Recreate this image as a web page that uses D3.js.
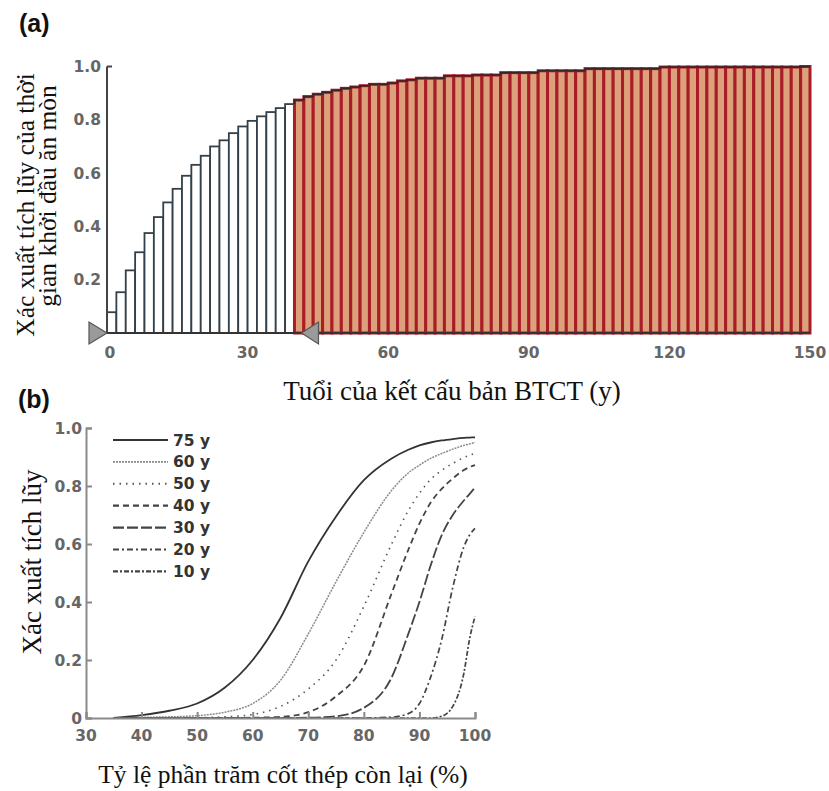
<!DOCTYPE html>
<html>
<head>
<meta charset="utf-8">
<script src="https://cdn.jsdelivr.net/npm/d3@7"></script>
<style>
  body { margin: 0; background: #fff; }
  svg { display: block; }
  .tick-label { font-family: "DejaVu Sans", Verdana, sans-serif; font-size: 15.5px; font-weight: 700; fill: #666; }
  .title { font-family: "Liberation Serif", "Times New Roman", serif; fill: #111; }
  .panel { font-family: "Liberation Sans", Arial, sans-serif; font-size: 25px; font-weight: 700; fill: #111; }
</style>
</head>
<body>
<svg id="chart" width="829" height="791"></svg>
<script>
// ---- panel (a): cumulative probability of corrosion initiation time ----
const binWidth = 2;                       // years per bar
const ages = d3.range(0, 150, binWidth);  // bar start ages
const cdfA = [
  0.078, 0.153, 0.235, 0.303, 0.375, 0.435, 0.490, 0.541, 0.590, 0.631,
  0.665, 0.700, 0.723, 0.750, 0.775, 0.796, 0.813, 0.829, 0.844, 0.859,
  0.874, 0.887, 0.896, 0.903, 0.911, 0.918, 0.923, 0.928, 0.933, 0.933,
  0.938, 0.946, 0.950, 0.956, 0.956, 0.956, 0.965, 0.965, 0.965, 0.968,
  0.968, 0.968, 0.977, 0.977, 0.977, 0.977, 0.984, 0.984, 0.984, 0.984,
  0.984, 0.992, 0.992, 0.992, 0.992, 0.992, 0.992, 0.992, 0.992, 0.998,
  0.998, 0.998, 0.998, 0.998, 0.998, 0.998, 0.998, 0.998, 0.998, 0.998,
  0.998, 0.998, 0.998, 0.998, 1.000
];
const highlightFrom = 40;        // bars from this age are coloured
const markerAges = [0, 41.5];    // grey triangle markers on the axis
const xTicksA = [0, 30, 60, 90, 120, 150];
const yTicksA = [0.2, 0.4, 0.6, 0.8, 1.0];

// ---- panel (b): cumulative probability of remaining steel ----
const pct = [35, 40, 45, 50, 55, 60, 65, 70, 75, 80, 85, 88, 90, 92, 94, 96, 98, 99, 100];
const seriesNames = ["75 y", "60 y", "50 y", "40 y", "30 y", "20 y", "10 y"];
const y75 = [0, 0.01, 0.025, 0.05, 0.105, 0.2, 0.345, 0.54, 0.695, 0.82, 0.895, 0.925, 0.94, 0.95, 0.957, 0.962, 0.966, 0.967, 0.968];
const y60 = [0, 0.002, 0.004, 0.008, 0.02, 0.05, 0.13, 0.29, 0.47, 0.64, 0.785, 0.845, 0.872, 0.895, 0.912, 0.927, 0.94, 0.945, 0.95];
const y50 = [0, 0, 0, 0.001, 0.004, 0.012, 0.04, 0.1, 0.2, 0.385, 0.6, 0.715, 0.775, 0.822, 0.854, 0.878, 0.898, 0.906, 0.913];
const y40 = [0, 0, 0, 0, 0, 0.001, 0.004, 0.02, 0.075, 0.18, 0.43, 0.58, 0.67, 0.742, 0.79, 0.826, 0.855, 0.865, 0.872];
const y30 = [0, 0, 0, 0, 0, 0, 0, 0.001, 0.006, 0.035, 0.14, 0.29, 0.4, 0.525, 0.63, 0.7, 0.75, 0.772, 0.795];
const y20 = [0, 0, 0, 0, 0, 0, 0, 0, 0, 0, 0.003, 0.015, 0.05, 0.14, 0.27, 0.45, 0.59, 0.63, 0.654];
const y10 = [0, 0, 0, 0, 0, 0, 0, 0, 0, 0, 0, 0, 0, 0, 0.006, 0.04, 0.155, 0.27, 0.35];
const xTicksB = [30, 40, 50, 60, 70, 80, 90, 100];
const yTicksB = [0, 0.2, 0.4, 0.6, 0.8, 1.0];

const svg = d3.select("#chart");

// ================= panel (a) =================
const xA = d3.scaleLinear().domain([0, 150]).range([107, 810]);
const yA = d3.scaleLinear().domain([0, 1]).range([333, 66.5]);
const gA = svg.append("g");

// bars
gA.selectAll("rect.bar")
  .data(ages.map((a, i) => ({ age: a, p: cdfA[i] })))
  .join("rect")
  .attr("class", "bar")
  .attr("x", d => xA(d.age))
  .attr("width", xA(binWidth) - xA(0))
  .attr("y", d => yA(d.p))
  .attr("height", d => yA(0) - yA(d.p))
  .attr("fill", d => d.age >= highlightFrom ? "#dca07a" : "#fff")
  .attr("stroke", d => d.age >= highlightFrom ? "#a91d28" : "#33404a")
  .attr("stroke-width", d => d.age >= highlightFrom ? 3 : 1.8);

// step outline on top of the coloured bars
const stepPts = [];
ages.forEach((a, i) => { stepPts.push([a, cdfA[i]], [a + binWidth, cdfA[i]]); });
gA.append("path")
  .attr("d", d3.line().x(d => xA(d[0])).y(d => yA(d[1]))(stepPts.filter(d => d[0] >= highlightFrom)))
  .attr("fill", "none")
  .attr("stroke", "#3a2225")
  .attr("stroke-width", 1.5);

// axes
gA.append("line")
  .attr("x1", xA(0)).attr("x2", xA(0))
  .attr("y1", yA(0)).attr("y2", yA(1))
  .attr("stroke", "#444").attr("stroke-width", 2);
gA.append("line")
  .attr("x1", xA(0)).attr("x2", xA(150))
  .attr("y1", yA(0)).attr("y2", yA(0))
  .attr("stroke", "#333").attr("stroke-width", 2);
gA.append("line")
  .attr("x1", xA(0)).attr("x2", xA(0) + 5)
  .attr("y1", yA(1)).attr("y2", yA(1))
  .attr("stroke", "#444").attr("stroke-width", 2);

gA.selectAll("text.ytA")
  .data(yTicksA)
  .join("text")
  .attr("class", "tick-label")
  .attr("x", xA(0) - 6)
  .attr("y", d => yA(d))
  .attr("dy", "0.36em")
  .attr("text-anchor", "end")
  .text(d => d3.format(".1f")(d));

gA.selectAll("text.xtA")
  .data(xTicksA)
  .join("text")
  .attr("class", "tick-label")
  .attr("x", d => xA(d) + (d === 0 ? 3 : 0))
  .attr("y", yA(0) + 25)
  .attr("text-anchor", "middle")
  .text(d => d);

// triangle markers
gA.selectAll("path.marker")
  .data(markerAges)
  .join("path")
  .attr("class", "marker")
  .attr("transform", d => `translate(${xA(d)},${yA(0)})`)
  .attr("d", (d, i) => i === 0 ? "M0,0 L-18,-11 L-18,11 Z" : "M0,0 L17,-11 L17,11 Z")
  .attr("fill", "#9a9a9a")
  .attr("stroke", "#555")
  .attr("stroke-width", 1.2);

// titles
gA.append("text")
  .attr("class", "title")
  .style("font-size", "25.5px")
  .attr("transform", "translate(34,205) rotate(-90)")
  .attr("text-anchor", "middle")
  .text("Xác xuất tích lũy của thời");
gA.append("text")
  .attr("class", "title")
  .style("font-size", "25.5px")
  .attr("transform", "translate(56,196) rotate(-90)")
  .attr("text-anchor", "middle")
  .text("gian khởi đầu ăn mòn");
gA.append("text")
  .attr("class", "title")
  .style("font-size", "27px")
  .attr("x", 452).attr("y", 400)
  .attr("text-anchor", "middle")
  .text("Tuổi của kết cấu bản BTCT (y)");
svg.append("text").attr("class", "panel").attr("x", 19).attr("y", 32).text("(a)");

// ================= panel (b) =================
const xB = d3.scaleLinear().domain([30, 100]).range([86, 475]);
const yB = d3.scaleLinear().domain([0, 1]).range([718, 428]);
const gB = svg.append("g");

const styles = {
  "75 y": { stroke: "#333", width: 1.8, dash: null },
  "60 y": { stroke: "#8a8a8a", width: 1.5, dash: "2,1" },
  "50 y": { stroke: "#555", width: 1.6, dash: "1.5,5" },
  "40 y": { stroke: "#444", width: 1.8, dash: "6,4" },
  "30 y": { stroke: "#444", width: 1.8, dash: "11,3" },
  "20 y": { stroke: "#444", width: 1.7, dash: "6,3,2,3" },
  "10 y": { stroke: "#444", width: 1.7, dash: "5,2,2,2" }
};
const seriesVals = [y75, y60, y50, y40, y30, y20, y10];
const series = seriesNames.map((n, i) => ({ name: n, pts: pct.map((x, j) => [x, seriesVals[i][j]]) }));

const line = d3.line()
  .x(d => xB(d[0]))
  .y(d => yB(d[1]))
  .curve(d3.curveMonotoneX);

gB.selectAll("path.curve")
  .data(series)
  .join("path")
  .attr("class", "curve")
  .attr("d", d => line(d.pts))
  .attr("fill", "none")
  .attr("stroke", d => styles[d.name].stroke)
  .attr("stroke-width", d => styles[d.name].width)
  .attr("stroke-dasharray", d => styles[d.name].dash);

// axes with inward ticks
gB.append("g")
  .attr("transform", `translate(0,${yB(0)})`)
  .call(d3.axisTop(xB).tickValues(xTicksB).tickSize(6).tickFormat(""))
  .call(g => g.selectAll("line, path").attr("stroke", "#8a8a8a").attr("stroke-width", 2));
gB.append("g")
  .attr("transform", `translate(${xB(30)},0)`)
  .call(d3.axisRight(yB).tickValues(yTicksB).tickSize(6).tickFormat(""))
  .call(g => g.selectAll("line, path").attr("stroke", "#8a8a8a").attr("stroke-width", 2));

gB.selectAll("text.xtB")
  .data(xTicksB)
  .join("text")
  .attr("class", "tick-label")
  .attr("x", d => xB(d))
  .attr("y", yB(0) + 23)
  .attr("text-anchor", "middle")
  .text(d => d);
gB.selectAll("text.ytB")
  .data(yTicksB)
  .join("text")
  .attr("class", "tick-label")
  .attr("x", xB(30) - 4)
  .attr("y", d => yB(d))
  .attr("dy", "0.36em")
  .attr("text-anchor", "end")
  .text(d => d === 0 ? "0" : d3.format(".1f")(d));

// legend
const leg = gB.append("g").attr("transform", "translate(113,440)");
const rows = leg.selectAll("g")
  .data(seriesNames)
  .join("g")
  .attr("transform", (d, i) => `translate(0,${i * 21.9})`);
rows.append("line")
  .attr("x1", 0).attr("x2", 55)
  .attr("stroke", d => styles[d].stroke)
  .attr("stroke-width", d => styles[d].width + 0.4)
  .attr("stroke-dasharray", d => styles[d].dash);
rows.append("text")
  .attr("class", "tick-label")
  .attr("x", 60)
  .attr("dy", "0.36em")
  .style("fill", "#333")
  .text(d => d);

// titles
gB.append("text")
  .attr("class", "title")
  .style("font-size", "27px")
  .attr("transform", "translate(41,562) rotate(-90)")
  .attr("text-anchor", "middle")
  .text("Xác xuất tích lũy");
gB.append("text")
  .attr("class", "title")
  .style("font-size", "25.5px")
  .attr("x", 283).attr("y", 783)
  .attr("text-anchor", "middle")
  .text("Tỷ lệ phần trăm cốt thép còn lại (%)");
svg.append("text").attr("class", "panel").attr("x", 18).attr("y", 408).text("(b)");
</script>
</body>
</html>
